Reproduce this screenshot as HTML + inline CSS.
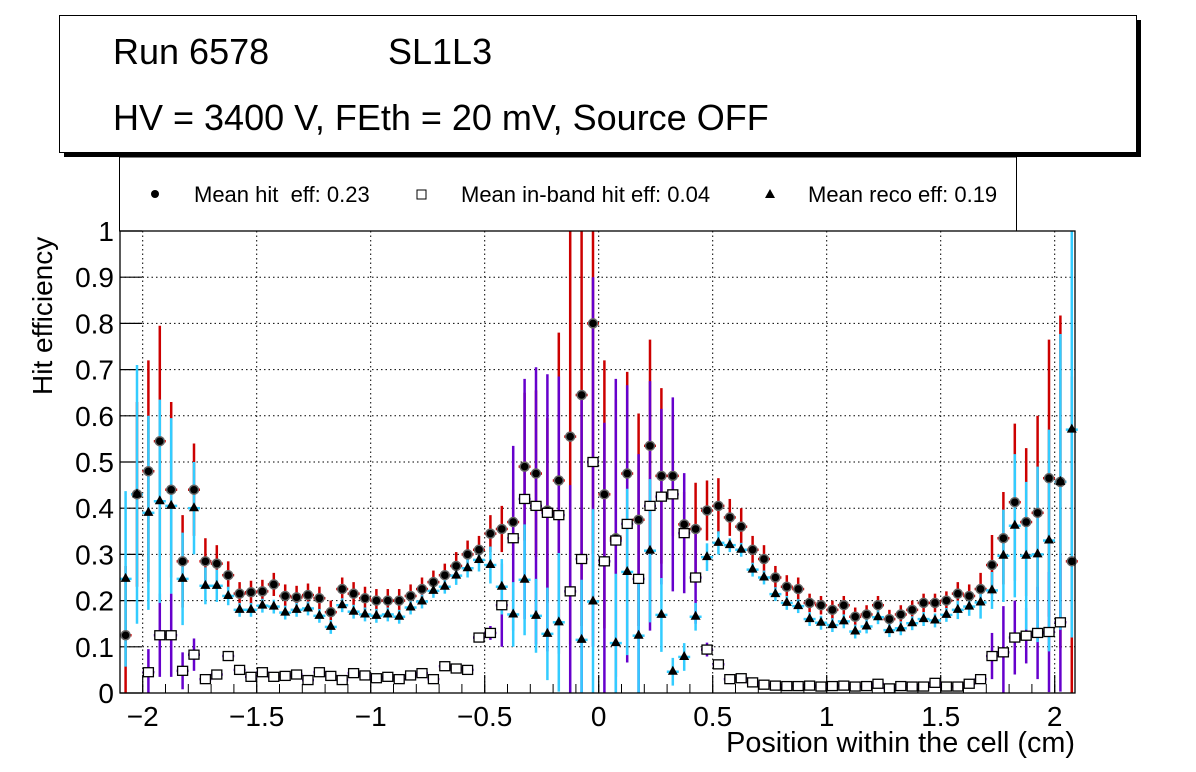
<!DOCTYPE html>
<html><head><meta charset="utf-8">
<style>
html,body{margin:0;padding:0;background:#fff;}
svg{display:block;font-family:"Liberation Sans",Arial,sans-serif;}
</style></head>
<body>
<svg id="chart" width="1196" height="772" viewBox="0 0 1196 772" xmlns="http://www.w3.org/2000/svg">
  <rect x="0" y="0" width="1196" height="772" fill="#fff"/>
  <g>
    <rect x="64" y="20" width="1077" height="137" fill="#000"/>
    <rect x="59.5" y="15.5" width="1077" height="137" fill="#fff" stroke="#000" stroke-width="1"/>
    <text x="113" y="64" font-size="36">Run 6578</text>
    <text x="388" y="64" font-size="36">SL1L3</text>
    <text x="113" y="130" font-size="36">HV = 3400 V, FEth = 20 mV, Source OFF</text>
  </g>
  <g>
    <rect x="119.5" y="157" width="897" height="74" fill="#fff" stroke="#000" stroke-width="1"/>
    <circle cx="155" cy="194" r="4" fill="#000"/>
    <text x="194" y="202" font-size="22" xml:space="preserve" style="white-space:pre">Mean hit  eff: 0.23</text>
    <rect x="417" y="190" width="9" height="9" fill="#fff" stroke="#000" stroke-width="1"/>
    <text x="461" y="202" font-size="22">Mean in-band hit eff: 0.04</text>
    <polygon points="770,189 775,198 765,198" fill="#000"/>
    <text x="808" y="202" font-size="22">Mean reco eff: 0.19</text>
  </g>
  <g id="grid"></g>
  <g id="axes"></g>
  <g id="series"></g>
  <rect x="120" y="231" width="955" height="462" fill="none" stroke="#000" stroke-width="1.3"/>
  <text transform="translate(52,395) rotate(-90)" font-size="28">Hit efficiency</text>
  <text x="1075" y="752" font-size="28.8" text-anchor="end">Position within the cell (cm)</text>
</svg>
<script>
const binCenters = [];
for (let i = 0; i < 84; i++) binCenters.push(-2.075 + 0.05 * i);
const hitEff = [0.125,0.43,0.48,0.545,0.44,0.285,0.44,0.285,0.28,0.255,0.215,0.218,0.22,0.235,0.21,0.207,0.212,0.205,0.175,0.225,0.215,0.205,0.2,0.2,0.2,0.21,0.225,0.24,0.255,0.275,0.3,0.31,0.345,0.355,0.37,0.49,0.475,0.395,0.46,0.555,0.645,0.8,0.43,0.335,0.475,0.375,0.535,0.47,0.47,0.365,0.355,0.395,0.405,0.38,0.36,0.31,0.29,0.25,0.23,0.225,0.195,0.19,0.18,0.19,0.165,0.17,0.19,0.16,0.17,0.18,0.195,0.195,0.2,0.215,0.21,0.225,0.277,0.335,0.413,0.37,0.39,0.465,0.457,0.285];
const hitErr = [0.15,0.2,0.24,0.25,0.19,0.1,0.1,0.05,0.04,0.03,0.025,0.025,0.025,0.025,0.025,0.025,0.025,0.025,0.025,0.025,0.025,0.025,0.025,0.025,0.025,0.025,0.025,0.025,0.025,0.03,0.03,0.03,0.04,0.05,0.07,0.16,0.18,0.2,0.32,0.45,0.5,0.5,0.29,0.3,0.22,0.23,0.23,0.19,0.13,0.07,0.1,0.065,0.06,0.04,0.04,0.03,0.03,0.025,0.025,0.025,0.02,0.02,0.02,0.02,0.02,0.02,0.02,0.02,0.02,0.02,0.02,0.02,0.02,0.025,0.025,0.035,0.065,0.1,0.17,0.16,0.21,0.3,0.36,0.4];
const inbandEff = [null,null,0.045,0.125,0.125,0.048,0.083,0.03,0.04,0.08,0.05,0.035,0.045,0.035,0.037,0.04,0.028,0.045,0.037,0.028,0.043,0.038,0.032,0.035,0.03,0.038,0.043,0.03,0.058,0.053,0.05,0.12,0.13,0.19,0.335,0.42,0.405,0.39,0.385,0.22,0.29,0.5,0.285,0.33,0.366,0.247,0.405,0.425,0.43,0.346,0.25,0.094,0.062,0.03,0.032,0.023,0.018,0.016,0.015,0.015,0.016,0.014,0.015,0.016,0.014,0.015,0.02,0.01,0.015,0.014,0.014,0.022,0.014,0.014,0.02,0.03,0.08,0.088,0.12,0.124,0.13,0.132,0.153,null];
const inbandErr = [0,0,0.05,0.09,0.09,0.04,0.035,0.006,0.006,0.006,0.006,0.006,0.006,0.006,0.006,0.006,0.006,0.006,0.006,0.006,0.006,0.006,0.006,0.006,0.006,0.006,0.006,0.006,0.006,0.006,0.006,0.01,0.015,0.09,0.2,0.26,0.3,0.3,0.3,0.23,0.35,0.4,0.3,0.35,0.3,0.27,0.27,0.19,0.21,0.13,0.1,0.015,0.006,0.006,0.006,0.006,0.006,0.006,0.006,0.006,0.006,0.006,0.006,0.006,0.006,0.006,0.006,0.006,0.006,0.006,0.006,0.006,0.006,0.006,0.006,0.006,0.05,0.1,0.08,0.06,0.1,0.13,0.15,0];
const recoEff = [0.247,0.43,0.39,0.415,0.405,0.247,0.4,0.232,0.232,0.21,0.18,0.18,0.189,0.187,0.174,0.18,0.183,0.167,0.143,0.19,0.176,0.17,0.167,0.17,0.165,0.185,0.198,0.221,0.23,0.254,0.27,0.288,0.277,0.23,0.17,0.245,0.167,0.128,0.153,0,0.115,0.198,0,0.108,0.262,0.124,0.308,0.169,0.046,0.078,0.165,0.294,0.325,0.32,0.31,0.267,0.25,0.214,0.195,0.188,0.16,0.152,0.147,0.155,0.133,0.144,0.164,0.136,0.14,0.151,0.16,0.157,0.169,0.18,0.187,0.196,0.222,0.297,0.362,0.297,0.3,0.33,0.457,0.57];
const recoErr = [0.19,0.28,0.21,0.22,0.19,0.1,0.1,0.04,0.035,0.02,0.015,0.015,0.015,0.015,0.015,0.015,0.015,0.015,0.015,0.015,0.015,0.015,0.015,0.015,0.015,0.015,0.015,0.015,0.015,0.02,0.02,0.025,0.04,0.06,0.07,0.12,0.08,0.1,0.15,0,0.13,0.2,0,0.15,0.18,0.13,0.155,0.08,0.03,0.03,0.03,0.03,0.025,0.015,0.015,0.015,0.015,0.015,0.015,0.015,0.015,0.015,0.015,0.015,0.015,0.015,0.015,0.015,0.015,0.015,0.015,0.015,0.015,0.02,0.02,0.035,0.04,0.1,0.155,0.16,0.19,0.24,0.32,0.45];
const xTicks = [-2,-1.5,-1,-0.5,0,0.5,1,1.5,2];
const xTickLabels = ["\u22122","\u22121.5","\u22121","\u22120.5","0","0.5","1","1.5","2"];
const yTicks = [0,0.1,0.2,0.3,0.4,0.5,0.6,0.7,0.8,0.9,1];
const yTickLabels = ["0","0.1","0.2","0.3","0.4","0.5","0.6","0.7","0.8","0.9","1"];

const NS = "http://www.w3.org/2000/svg";
const X0 = 120, X1 = 1075, Y0 = 693, Y1 = 231;
function xs(v){ return 598.7 + v * 228; }
function ys(v){ return Y0 - v * (Y0 - Y1); }
function clamp(v){ return Math.max(0, Math.min(1, v)); }
function mk(tag, attrs, parent){
  const e = document.createElementNS(NS, tag);
  for (const k in attrs) e.setAttribute(k, attrs[k]);
  parent.appendChild(e);
  return e;
}
const grid = document.getElementById('grid');
const axes = document.getElementById('axes');
const series = document.getElementById('series');

xTicks.forEach((t, i) => {
  const x = xs(t);
  const g = mk('line', {x1:x, x2:x, y1:Y1, y2:Y0, stroke:'#000', 'stroke-width':1, 'stroke-dasharray':'1.5,3'}, grid);
  
  
  const tk = mk('line', {x1:x, x2:x, y1:Y0, y2:Y0-18, stroke:'#000', 'stroke-width':1.2}, axes);
  
  
  const lb = mk('text', {x:x, y:Y0+33, 'font-size':28, 'text-anchor':'middle'}, axes);
  lb.textContent = xTickLabels[i];
  
  
});
for (let v = -2.1; v <= 2.1; v += 0.1) {
  const x = xs(v);
  if (x < X0 || x > X1) continue;
  const m = mk('line', {x1:x, x2:x, y1:Y0, y2:Y0-9, stroke:'#000', 'stroke-width':1}, axes);
  
  
}
yTicks.forEach((t, i) => {
  const y = ys(t);
  if (t > 0 && t < 1) {
    const g = mk('line', {x1:X0, x2:X1, y1:y, y2:y, stroke:'#000', 'stroke-width':1, 'stroke-dasharray':'1.5,3'}, grid);
    
    
  }
  const tk = mk('line', {x1:X0, x2:X0+22, y1:y, y2:y, stroke:'#000', 'stroke-width':1.2}, axes);
  
  
  const lb = mk('text', {x:114, y:y+10, 'font-size':28, 'text-anchor':'end'}, axes);
  lb.textContent = yTickLabels[i];
  
  
});

function errBar(x, v, e, color){
  const top = ys(clamp(v + e)), bot = ys(clamp(v - e));
  const l = mk('line', {x1:x, x2:x, y1:top, y2:bot, stroke:color, 'stroke-width':2.5}, series);
  
  
  const h = mk('line', {x1:x-6, x2:x+6, y1:ys(v), y2:ys(v), stroke:color, 'stroke-width':2.5}, series);
  
  
}
binCenters.forEach((c, i) => { errBar(xs(c), hitEff[i], hitErr[i], '#cc0000'); });
binCenters.forEach((c, i) => { if (inbandEff[i] !== null) errBar(xs(c), inbandEff[i], inbandErr[i], '#6600cc'); });
binCenters.forEach((c, i) => { if (recoEff[i] > 0) errBar(xs(c), recoEff[i], recoErr[i], '#33ccff'); });
binCenters.forEach((c, i) => {
  const x = xs(c);
  const p = mk('circle', {cx:x, cy:ys(hitEff[i]), r:4.5, fill:'#000', stroke:'#666', 'stroke-width':1.5}, series);
  
  
  if (inbandEff[i] !== null) {
    const y = ys(inbandEff[i]);
    const s = mk('rect', {x:x-5, y:y-4.5, width:10, height:9, fill:'#fff', stroke:'#000', 'stroke-width':1.3}, series);
    
    
  }
  if (recoEff[i] > 0) {
    const yr = ys(recoEff[i]);
    const t = mk('polygon', {points:`${x},${yr-6} ${x+5},${yr+3} ${x-5},${yr+3}`, fill:'#000'}, series);
    
    
  }
});
</script>
</body></html>
